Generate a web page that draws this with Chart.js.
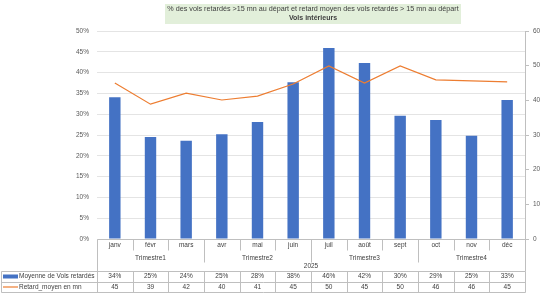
<!DOCTYPE html>
<html>
<head>
<meta charset="utf-8">
<script src="https://cdn.jsdelivr.net/npm/chart.js@4"></script>
<style>
    body { margin: 0; background: #fff; }
    canvas { display: block; }
</style>
</head>
<body>
<canvas id="chart" width="543" height="295"></canvas>
<script>
    "use strict";

    // Data
    const months = ["janv", "févr", "mars", "avr", "mai", "juin", "juil", "août", "sept", "oct", "nov", "déc"];
    const quarters = ["Trimestre1", "Trimestre2", "Trimestre3", "Trimestre4"];
    const year = "2025";
    const pctDelayed = [34.1, 24.5, 23.6, 25.2, 28.1, 37.7, 45.9, 42.3, 29.6, 28.6, 24.8, 33.4];
    const avgDelay = [45, 38.9, 42.1, 40.1, 41.2, 44.7, 49.9, 45, 49.9, 45.9, 45.6, 45.3];
    const titleLines = ["% des vols retardés >15 mn au départ et retard moyen des vols retardés > 15 mn au départ", "Vols intérieurs"];
    const seriesNames = ["Moyenne de Vols retardés", "Retard_moyen en mn"];

    const FONT = "'Liberation Sans', Arial, sans-serif";
    const BLUE = "#4472c4", ORANGE = "#ed7d31", TXT = "#404040", LINE = "#bfbfbf";

    // Title box + data table drawn under the plot
    const tablePlugin = {
        id: "dataTable",
        afterDraw(chart) {
            const ctx = chart.ctx;
            const x = chart.scales.x;
            const area = chart.chartArea;
            const bottom = area.bottom;
            const step = (area.right - area.left) / months.length;
            const edge = i => area.left + i * step;

            ctx.save();

            // title
            ctx.fillStyle = "#e2efda";
            ctx.fillRect(165, 4, 296, 20);
            ctx.fillStyle = TXT;
            ctx.textAlign = "center";
            ctx.textBaseline = "middle";
            ctx.font = "7.2px " + FONT;
            ctx.fillText(titleLines[0], 313, 9.5);
            ctx.font = "bold 7px " + FONT;
            ctx.fillText(titleLines[1], 313, 18);

            ctx.strokeStyle = LINE;
            ctx.lineWidth = 1;
            const line = (x1, y1, x2, y2) => {
                ctx.beginPath();
                ctx.moveTo(Math.round(x1) + 0.5, Math.round(y1) + 0.5);
                ctx.lineTo(Math.round(x2) + 0.5, Math.round(y2) + 0.5);
                ctx.stroke();
            };

            // category header lines
            line(area.left, bottom, area.right, bottom);
            for (let i = 0; i <= months.length; i++) {
                let h = 11;
                if (i % 3 === 0) h = 23;
                if (i === 0 || i === months.length) h = 32;
                line(edge(i), bottom, edge(i), bottom + h);
            }

            ctx.font = "6.5px " + FONT;
            ctx.fillStyle = TXT;
            months.forEach((m, i) => {
                ctx.fillText(m, x.getPixelForValue(i), bottom + 6);
            });
            quarters.forEach((q, i) => {
                ctx.fillText(q, (edge(i * 3) + edge(i * 3 + 3)) / 2, bottom + 19);
            });
            ctx.fillText(year, (area.left + area.right) / 2, bottom + 27);

            // legend rows
            const rows = [bottom + 32, bottom + 43, bottom + 53];
            rows.forEach(r => line(1, r, area.right, r));
            line(1, rows[0], 1, rows[2]);
            for (let i = 0; i <= months.length; i++) {
                line(edge(i), rows[0], edge(i), rows[2]);
            }

            const mid1 = (rows[0] + rows[1]) / 2, mid2 = (rows[1] + rows[2]) / 2;
            ctx.fillStyle = BLUE;
            ctx.fillRect(3, mid1 - 2, 15, 4);
            ctx.strokeStyle = ORANGE;
            ctx.lineWidth = 1.2;
            ctx.beginPath();
            ctx.moveTo(3, mid2);
            ctx.lineTo(18, mid2);
            ctx.stroke();

            ctx.fillStyle = TXT;
            ctx.textAlign = "left";
            ctx.fillText(seriesNames[0], 19, mid1);
            ctx.fillText(seriesNames[1], 19, mid2);

            ctx.textAlign = "center";
            months.forEach((m, i) => {
                const cx = x.getPixelForValue(i);
                ctx.fillText(Math.round(pctDelayed[i]) + "%", cx, mid1);
                ctx.fillText(String(Math.round(avgDelay[i])), cx, mid2);
            });

            ctx.restore();
        }
    };

    new Chart(document.getElementById("chart"), {
        type: "bar",
        data: {
            labels: months,
            datasets: [
                {
                    type: "line",
                    label: seriesNames[1],
                    data: avgDelay,
                    yAxisID: "y1",
                    borderColor: ORANGE,
                    borderWidth: 1.2,
                    pointRadius: 0,
                    tension: 0,
                    order: 0
                },
                {
                    label: seriesNames[0],
                    data: pctDelayed,
                    yAxisID: "y",
                    backgroundColor: BLUE,
                    barPercentage: 0.32,
                    categoryPercentage: 1,
                    order: 1
                }
            ]
        },
        options: {
            responsive: false,
            animation: false,
            layout: { padding: { top: 31, bottom: 56, left: 0, right: 0 } },
            plugins: {
                legend: { display: false },
                tooltip: { enabled: false }
            },
            scales: {
                x: { display: false, offset: true },
                y: {
                    position: "left",
                    min: 0,
                    max: 50,
                    afterFit: s => { s.width = 97; },
                    ticks: {
                        stepSize: 5,
                        callback: v => v + "%",
                        color: "#595959",
                        font: { family: FONT, size: 6.5 },
                        padding: 8
                    },
                    grid: { color: "#e4e4e4", drawTicks: false },
                    border: { display: false }
                },
                y1: {
                    position: "right",
                    min: 0,
                    max: 60,
                    afterFit: s => { s.width = 18; },
                    ticks: {
                        stepSize: 10,
                        color: "#595959",
                        font: { family: FONT, size: 6.5 },
                        padding: 4
                    },
                    grid: { drawOnChartArea: false, color: LINE, tickLength: 4 },
                    border: { display: true, color: LINE }
                }
            }
        },
        plugins: [tablePlugin]
    });
</script>
</body>
</html>
